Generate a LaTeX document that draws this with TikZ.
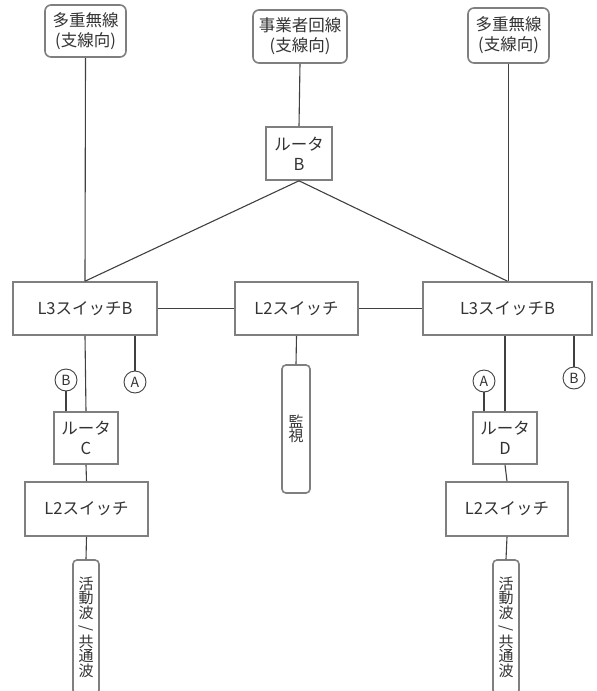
\documentclass[tikz,border=0pt]{standalone}
\usepackage{fontspec}
\setmainfont{Noto Sans CJK JP}
\usetikzlibrary{positioning}
\definecolor{boxgray}{HTML}{7F7F7F}
\definecolor{linegray}{HTML}{404040}
\definecolor{txtgray}{HTML}{333333}

\begin{document}
\begin{tikzpicture}[x=1pt, y=-1pt,
    font=\fontsize{16.5}{20}\selectfont, text=txtgray,
    dev/.style={rectangle, draw=boxgray, line width=1.6pt, fill=white, inner sep=0pt, align=center},
    ext/.style={dev, rounded corners=6pt},
    term/.style={dev, rounded corners=4pt, font=\fontsize{15}{14.5}\selectfont},
    port/.style={circle, draw=linegray, line width=0.9pt, inner sep=0pt, minimum size=22pt, font=\fontsize{14}{14}\selectfont},
    link/.style={draw=linegray, line width=1.1pt}
  ]
    \useasboundingbox (0,0) rectangle (597,691);
    % upstream lines
    \node[ext, minimum width=81pt, minimum height=52pt] (mwl) at (85.5,31) {多重無線\\(支線向)};
    \node[ext, minimum width=94pt, minimum height=53pt] (carrier) at (300,36.5) {事業者回線\\(支線向)};
    \node[ext, minimum width=81pt, minimum height=55pt] (mwr) at (508.5,35.5) {多重無線\\(支線向)};
    \node[dev, minimum width=66pt, minimum height=53pt] (rtb) at (299,153.5) {ルータ\\B};
    % core switches
    \node[dev, minimum width=144pt, minimum height=53pt] (l3l) at (85,308.5) {L3スイッチB};
    \node[dev, minimum width=123pt, minimum height=53pt] (l2c) at (296.5,308.5) {L2スイッチ};
    \node[dev, minimum width=169pt, minimum height=53pt] (l3r) at (507.5,308.5) {L3スイッチB};
    \node[term, minimum width=28pt, minimum height=128pt] (mon) at (296,429) {監\\視};
    % left branch
    \node[port] (pbl) at (66,380) {B};
    \node[port] (pal) at (135,382) {A};
    \node[dev, minimum width=64pt, minimum height=52pt] (rtc) at (86,438) {ルータ\\C};
    \node[dev, minimum width=123pt, minimum height=54pt] (l2l) at (86.5,509) {L2スイッチ};
    \node[term, minimum width=26pt, minimum height=134pt] (actl) at (86,627)
      {活\\動\\波\\\rotatebox[origin=c]{-90}{/}\\共\\通\\波};
    % right branch
    \node[port] (par) at (484,381) {A};
    \node[port] (pbr) at (574,378) {B};
    \node[dev, minimum width=64pt, minimum height=52pt] (rtd) at (505,438) {ルータ\\D};
    \node[dev, minimum width=122pt, minimum height=54pt] (l2r) at (507,509) {L2スイッチ};
    \node[term, minimum width=26pt, minimum height=134pt] (actr) at (506,627)
      {活\\動\\波\\\rotatebox[origin=c]{-90}{/}\\共\\通\\波};

    % links
    \draw[link] (mwl.south) -- (l3l.north);
    \draw[link] (carrier.south) -- (rtb.north);
    \draw[link] (rtb.south) -- (l3l.north);
    \draw[link] (rtb.south) -- (l3r.north);
    \draw[link] (mwr.south) -- (mwr.south |- l3r.north);
    \draw[link] (l3l.east) -- (l2c.west);
    \draw[link] (l2c.east) -- (l3r.west);
    \draw[link] (l2c.south) -- (mon.north);
    \draw[link] (l3l.south) -- (rtc.north);
    \draw[link] (pal.north |- l3l.south) -- (pal.north);
    \draw[link] (pbl.south) -- (pbl.south |- rtc.north);
    \draw[link] (rtc.south) -- (l2l.north);
    \draw[link] (l2l.south) -- (actl.north);
    \draw[link] (rtd.north |- l3r.south) -- (rtd.north);
    \draw[link] (pbr.north |- l3r.south) -- (pbr.north);
    \draw[link] (par.south) -- (par.south |- rtd.north);
    \draw[link] (rtd.south) -- (l2r.north);
    \draw[link] (l2r.south) -- (actr.north);
  \end{tikzpicture}
\end{document}
